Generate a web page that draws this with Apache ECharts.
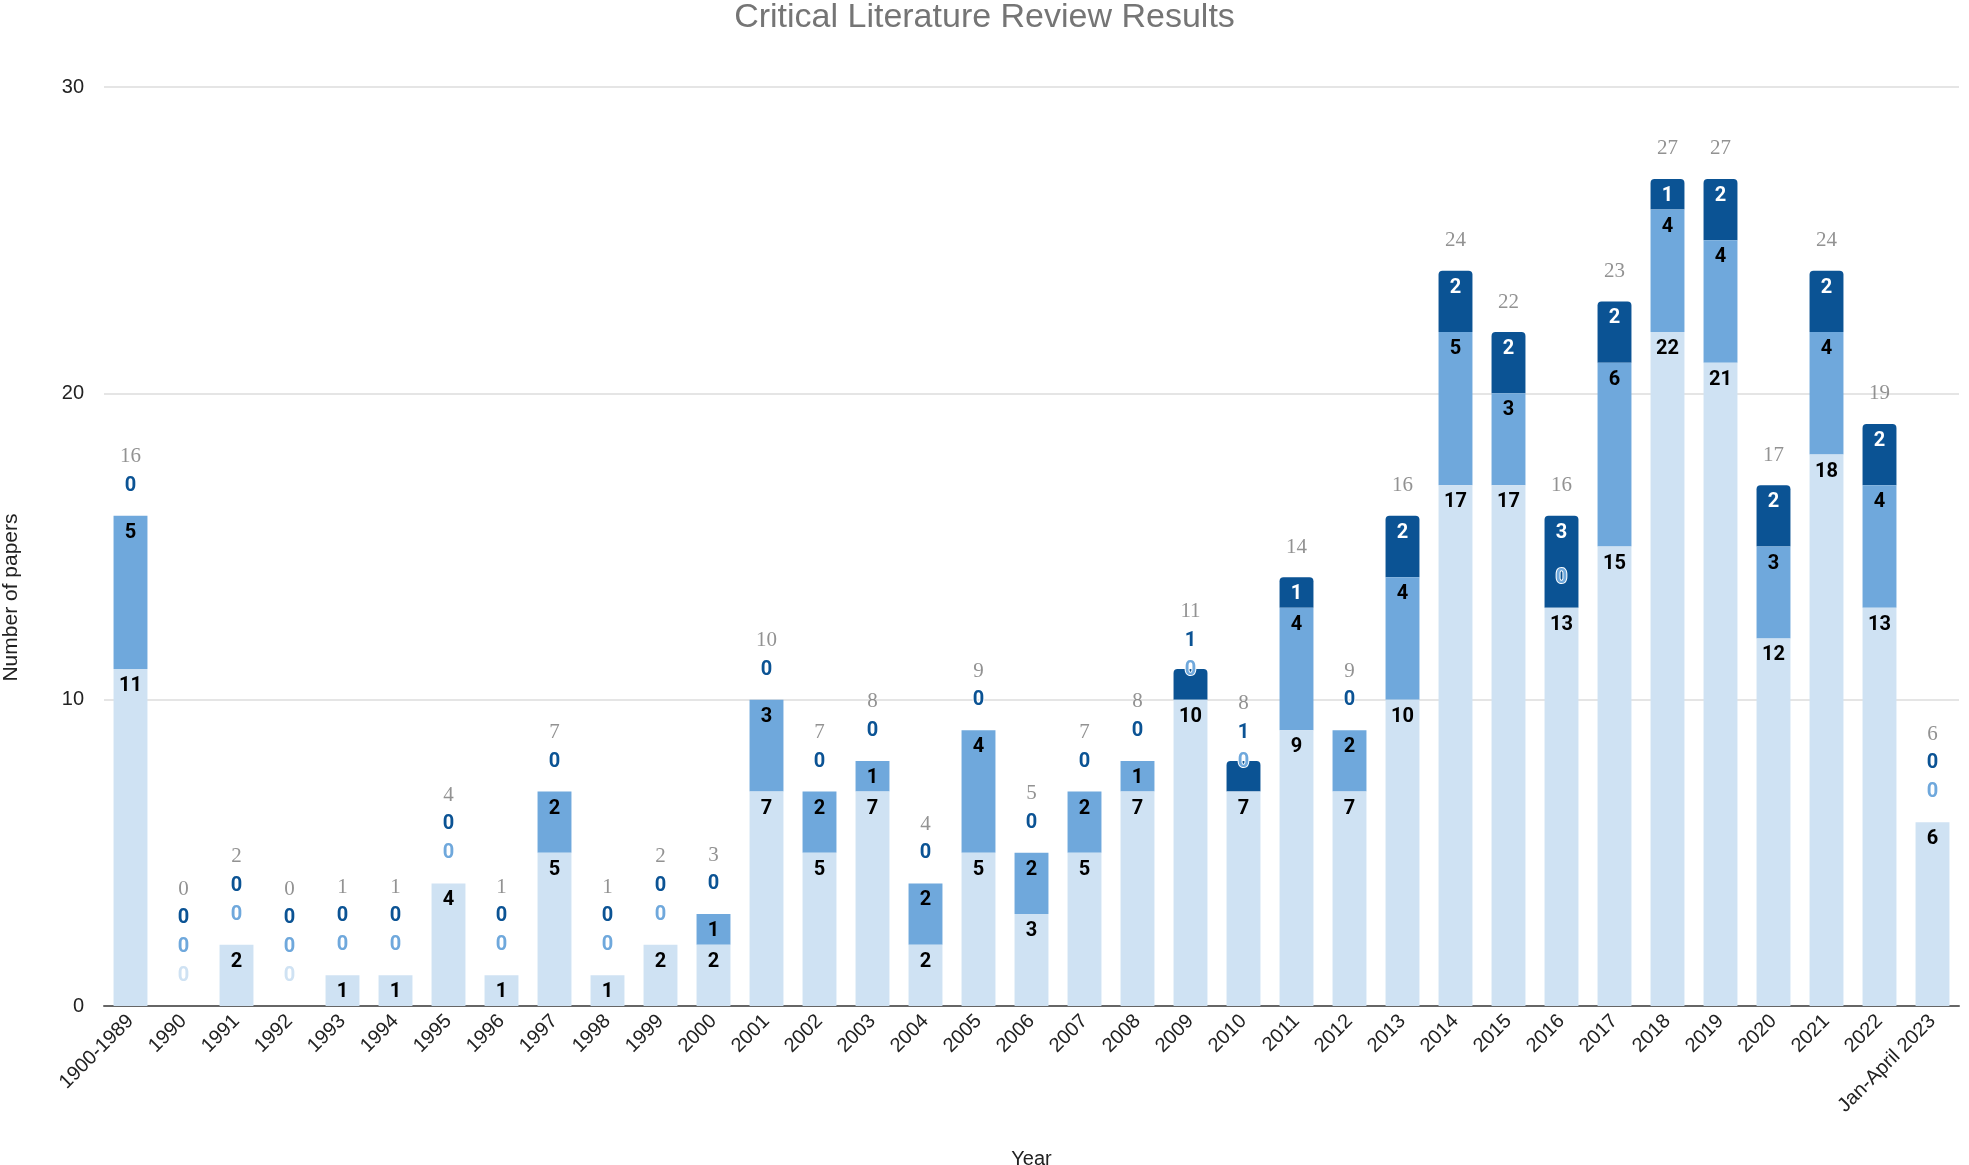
<!DOCTYPE html>
<html>
<head>
<meta charset="utf-8">
<title>Critical Literature Review Results</title>
<script src="https://cdn.jsdelivr.net/npm/echarts@6/dist/echarts.min.js"></script>
<style>
    html, body {margin: 0; padding: 0; background: #fff;}
    #main {width: 1969px; height: 1165px;}
</style>
</head>
<body>
<div id="main"></div>
<script>
const categories = ['1900-1989', '1990', '1991', '1992', '1993', '1994', '1995', '1996', '1997', '1998',
    '1999', '2000', '2001', '2002', '2003', '2004', '2005', '2006', '2007', '2008', '2009', '2010',
    '2011', '2012', '2013', '2014', '2015', '2016', '2017', '2018', '2019', '2020', '2021', '2022',
    'Jan-April 2023'];

// three stacked groups, bottom to top
const lightVals = [11, 0, 2, 0, 1, 1, 4, 1, 5, 1, 2, 2, 7, 5, 7, 2, 5, 3, 5, 7, 10, 7, 9, 7, 10, 17, 17, 13, 15, 22, 21, 12, 18, 13, 6];
const mediumVals = [5, 0, 0, 0, 0, 0, 0, 0, 2, 0, 0, 1, 3, 2, 1, 2, 4, 2, 2, 1, 0, 0, 4, 2, 4, 5, 3, 0, 6, 4, 4, 3, 4, 4, 0];
const darkVals = [0, 0, 0, 0, 0, 0, 0, 0, 0, 0, 0, 0, 0, 0, 0, 0, 0, 0, 0, 0, 1, 1, 1, 0, 2, 2, 2, 3, 2, 1, 2, 2, 2, 2, 0];

const yTicks = [0, 10, 20, 30];

const colors = ['#cfe2f3', '#6fa8dc', '#0b5394'];
const insideColors = ['#000', '#000', '#fff'];

// plot area in px
const gridTop = 87, gridBottom = 159;
const pxPerUnit = (1165 - gridTop - gridBottom) / yTicks[yTicks.length - 1];
const ABOVE = 30 / pxPerUnit;   // label centre above a stack top
const BELOW = 17 / pxPerUnit;   // label centre below a segment top
const STEP = 29 / pxPerUnit;    // min distance between stacked labels

const seriesVals = [lightVals, mediumVals, darkVals];
const totals = categories.map((c, i) => lightVals[i] + mediumVals[i] + darkVals[i]);

// push labels upward so they never overlap (zeros sit above the stack)
const labelY = seriesVals.map(() => []);
const totalY = [];
categories.forEach((c, i) => {
    let base = 0, prev = -Infinity;
    seriesVals.forEach((vals, s) => {
        const v = vals[i];
        const want = v > 0 ? base + v - BELOW : base + ABOVE;
        const y = Math.max(want, prev + STEP);
        labelY[s][i] = y;
        base += v;
        prev = y;
    });
    totalY[i] = Math.max(base + ABOVE, prev + STEP);
});

function barData(s) {
    let data = [];
    seriesVals[s].forEach((v, i) => {
        let base = 0;
        for (let k = 0; k < s; k++) base += seriesVals[k][i];
        const center = base + v / 2;
        // a label pushed out of its own segment takes the segment colour
        const inside = v > 0 && labelY[s][i] < base + v;
        data.push({
            value: v,
            label: {
                offset: [0, -(labelY[s][i] - center) * pxPerUnit],
                color: inside ? insideColors[s] : colors[s],
                textBorderColor: v > 0 ? 'transparent' : '#fff',
                textBorderWidth: v > 0 ? 0 : 2
            }
        });
    });
    return data;
}

const names = ['Group 1', 'Group 2', 'Group 3'];
let series = names.map((n, s) => ({
    name: n,
    type: 'bar',
    stack: 'papers',
    barWidth: '64%',
    z: 5 - s,
    itemStyle: {color: colors[s], borderRadius: s === 2 ? [4, 4, 0, 0] : 0},
    label: {
        show: true,
        position: 'inside',
        fontFamily: 'Roboto',
        fontWeight: 'bold',
        fontSize: 20
    },
    data: barData(s)
}));

series.push({
    name: 'Total',
    type: 'scatter',
    symbolSize: 1,
    itemStyle: {color: 'rgba(0,0,0,0)'},
    z: 6,
    label: {
        show: true,
        position: 'inside',
        fontFamily: 'Liberation Serif',
        fontSize: 21,
        color: '#777',
        formatter: p => totals[p.dataIndex]
    },
    data: totalY.map((y, i) => [i, y])
});

const chart = echarts.init(document.getElementById('main'));
chart.setOption({
    animation: false,
    title: {
        text: 'Critical Literature Review Results',
        left: 'center',
        top: -4,
        textStyle: {fontFamily: 'Liberation Sans', fontSize: 34, fontWeight: 'normal', color: '#757575'}
    },
    grid: {left: 104, right: 10, top: gridTop, bottom: gridBottom, containLabel: false, outerBoundsMode: 'none'},
    xAxis: {
        type: 'category',
        data: categories,
        name: 'Year',
        nameLocation: 'middle',
        nameGap: 143,
        nameTextStyle: {fontFamily: 'Liberation Sans', fontSize: 20, color: '#222'},
        axisTick: {show: false},
        axisLine: {lineStyle: {color: '#666', width: 2}},
        axisLabel: {interval: 0, rotate: 45, margin: 12, fontFamily: 'Liberation Sans', fontSize: 20, color: '#222'}
    },
    yAxis: {
        type: 'value',
        min: yTicks[0],
        max: yTicks[yTicks.length - 1],
        interval: yTicks[1] - yTicks[0],
        name: 'Number of papers',
        nameLocation: 'middle',
        nameGap: 82,
        nameTextStyle: {fontFamily: 'Liberation Sans', fontSize: 21, color: '#222', padding: [0, 102, 0, 0]},
        axisLabel: {margin: 20, fontFamily: 'Liberation Sans', fontSize: 20, color: '#222'},
        splitLine: {lineStyle: {color: '#ddd', width: 1.5}}
    },
    series: series
});
</script>
</body>
</html>
